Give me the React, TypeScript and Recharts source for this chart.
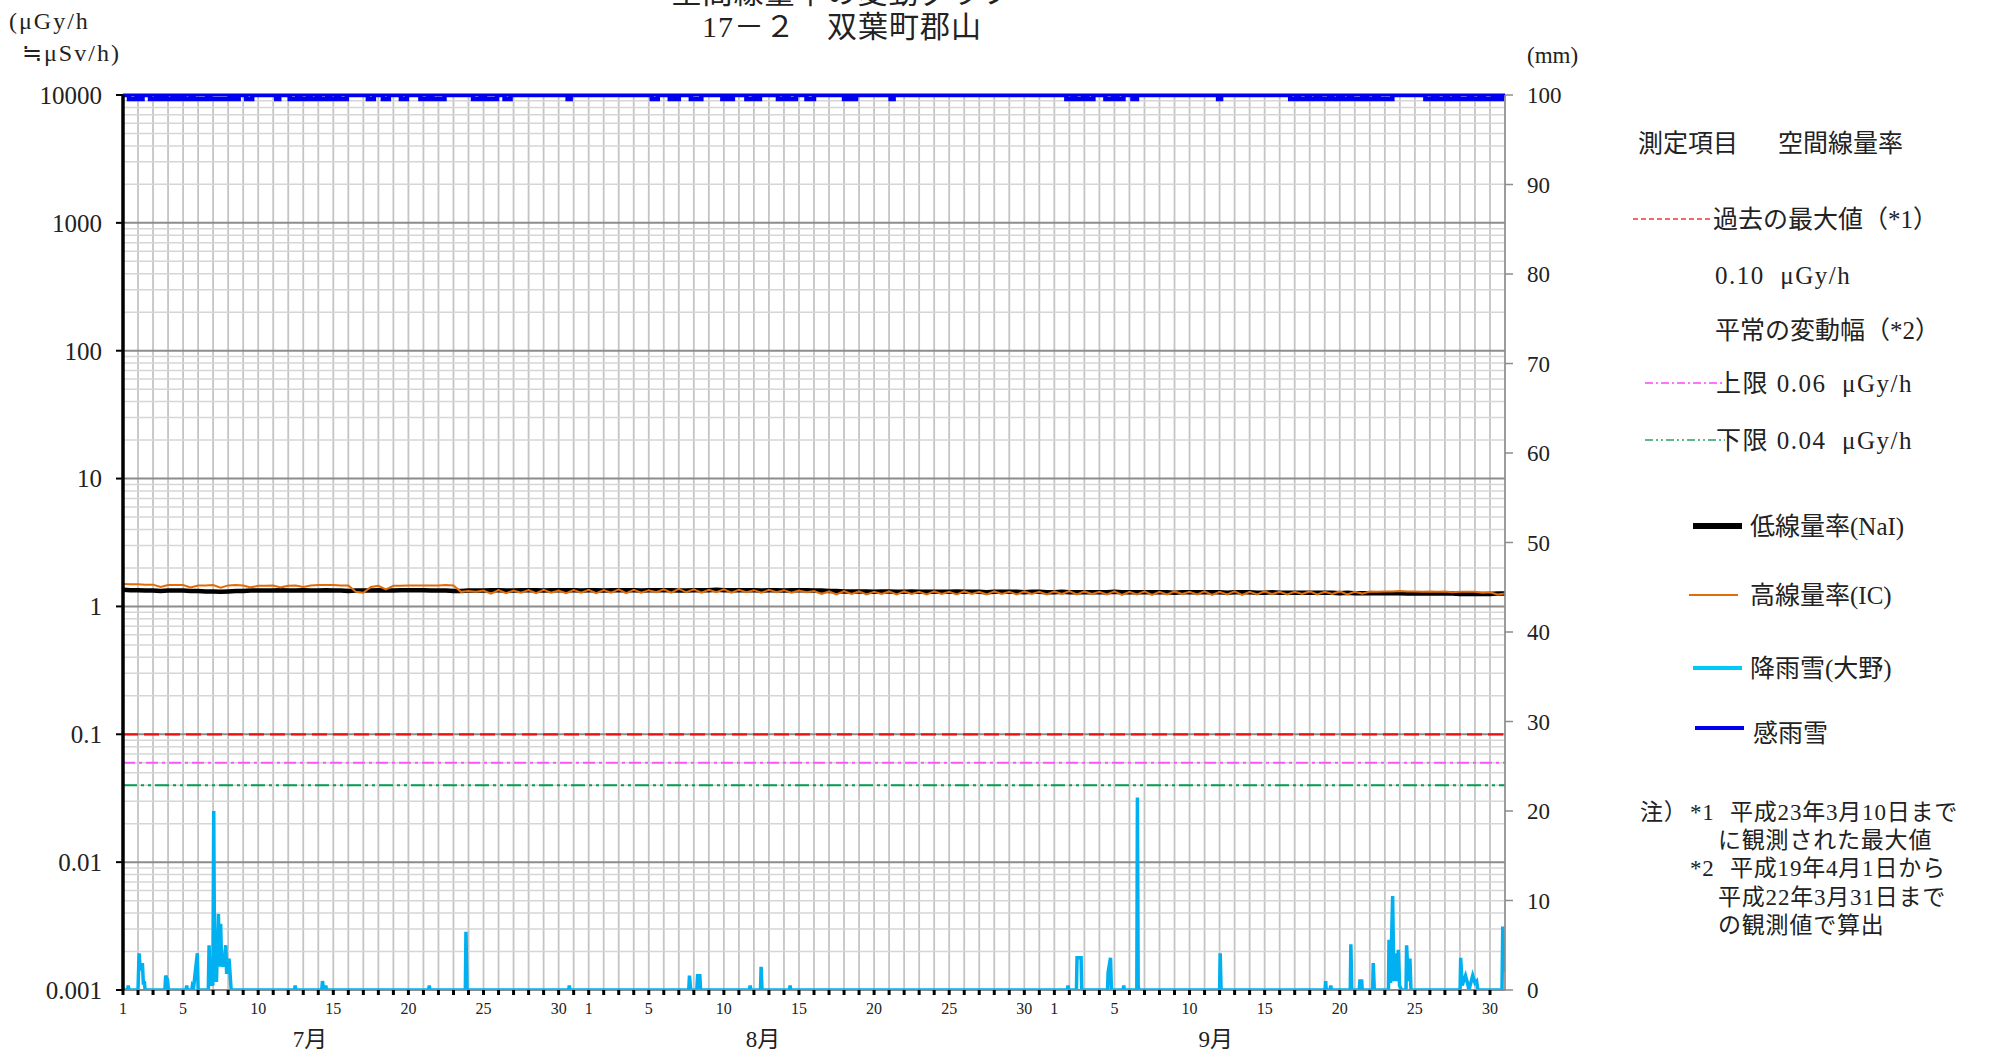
import React from 'react';
import { ComposedChart, Line, XAxis, YAxis, CartesianGrid, ReferenceLine } from 'recharts';

const FONT = "'Liberation Serif', 'Noto Sans CJK JP', serif";

// calendar: Jul 1 .. Sep 30, x = days since Jul 1 00:00
const MONTH_NAMES = ['7月', '8月', '9月'];
const MONTH_DAYS = [31, 31, 30];
const MONTH_LABEL_POS = [12.45, 42.6, 72.75];
const DAY_LABELS = [1, 5, 10, 15, 20, 25, 30];

const LEFT_TICKS = [0.001, 0.01, 0.1, 1, 10, 100, 1000, 10000];
const RIGHT_TICKS = [0, 10, 20, 30, 40, 50, 60, 70, 80, 90, 100];

const MAX_PAST = 0.1;
const NORMAL_UPPER = 0.06;
const NORMAL_LOWER = 0.04;

// low dose rate (NaI), two readings per day, µGy/h
const NAI = [
  1.35, 1.34, 1.34, 1.33, 1.33, 1.32, 1.33, 1.33, 1.33, 1.32,
  1.32, 1.31, 1.31, 1.30, 1.31, 1.32, 1.32, 1.33, 1.33, 1.33,
  1.33, 1.34, 1.33, 1.33, 1.34, 1.33, 1.33, 1.34, 1.33, 1.33,
  1.32, 1.33, 1.33, 1.33, 1.34, 1.33, 1.33, 1.34, 1.34, 1.34,
  1.34, 1.33, 1.33, 1.33, 1.32, 1.32, 1.33, 1.33, 1.33, 1.34,
  1.34, 1.33, 1.33, 1.34, 1.34, 1.34, 1.33, 1.34, 1.34, 1.34, 1.34, 1.33,
  1.34, 1.34, 1.33, 1.34, 1.34, 1.34, 1.34, 1.33, 1.34, 1.34,
  1.34, 1.34, 1.33, 1.33, 1.34, 1.34, 1.34, 1.35, 1.34, 1.34,
  1.34, 1.34, 1.34, 1.33, 1.34, 1.34, 1.33, 1.34, 1.34, 1.34,
  1.33, 1.33, 1.32, 1.32, 1.31, 1.31, 1.31, 1.31, 1.30, 1.31,
  1.31, 1.30, 1.30, 1.31, 1.30, 1.30, 1.30, 1.30, 1.30, 1.31,
  1.30, 1.30, 1.30, 1.29, 1.30, 1.30, 1.30, 1.30, 1.29, 1.30, 1.30, 1.29,
  1.29, 1.30, 1.29, 1.29, 1.29, 1.29, 1.29, 1.29, 1.30, 1.29,
  1.29, 1.29, 1.29, 1.29, 1.29, 1.29, 1.28, 1.29, 1.29, 1.29,
  1.29, 1.29, 1.29, 1.28, 1.29, 1.29, 1.29, 1.28, 1.28, 1.29,
  1.28, 1.28, 1.28, 1.28, 1.28, 1.28, 1.28, 1.28, 1.27, 1.28,
  1.27, 1.27, 1.27, 1.27, 1.27, 1.27, 1.27, 1.26, 1.26, 1.27,
  1.26, 1.26, 1.26, 1.26, 1.25, 1.25, 1.25, 1.25, 1.25, 1.26,
  1.26,
];

// high dose rate (IC), same times
const IC = [
  1.50, 1.49, 1.49, 1.48, 1.48, 1.42, 1.47, 1.47, 1.47, 1.41,
  1.46, 1.46, 1.47, 1.40, 1.46, 1.47, 1.46, 1.41, 1.45, 1.45,
  1.46, 1.41, 1.45, 1.46, 1.42, 1.46, 1.47, 1.47, 1.47, 1.46,
  1.46, 1.30, 1.28, 1.42, 1.45, 1.36, 1.45, 1.45, 1.46, 1.46,
  1.46, 1.46, 1.46, 1.47, 1.46, 1.30, 1.32, 1.30, 1.33, 1.26,
  1.34, 1.27, 1.33, 1.28, 1.34, 1.27, 1.35, 1.28, 1.33, 1.27, 1.34, 1.28,
  1.35, 1.27, 1.34, 1.28, 1.36, 1.27, 1.35, 1.28, 1.34, 1.29,
  1.36, 1.28, 1.37, 1.29, 1.36, 1.28, 1.35, 1.29, 1.36, 1.28,
  1.35, 1.29, 1.34, 1.28, 1.35, 1.29, 1.34, 1.28, 1.33, 1.29,
  1.32, 1.25, 1.31, 1.24, 1.32, 1.25, 1.31, 1.24, 1.30, 1.25,
  1.31, 1.24, 1.31, 1.25, 1.30, 1.24, 1.31, 1.25, 1.30, 1.24,
  1.31, 1.25, 1.30, 1.24, 1.31, 1.25, 1.30, 1.24, 1.31, 1.25, 1.30, 1.24,
  1.31, 1.25, 1.32, 1.24, 1.31, 1.25, 1.30, 1.24, 1.31, 1.23,
  1.30, 1.24, 1.31, 1.23, 1.30, 1.24, 1.31, 1.25, 1.30, 1.24,
  1.31, 1.23, 1.30, 1.24, 1.31, 1.23, 1.30, 1.24, 1.31, 1.25,
  1.30, 1.24, 1.30, 1.25, 1.31, 1.24, 1.30, 1.25, 1.31, 1.24,
  1.30, 1.26, 1.31, 1.30, 1.31, 1.31, 1.32, 1.31, 1.31, 1.30,
  1.31, 1.30, 1.31, 1.29, 1.30, 1.30, 1.30, 1.28, 1.29, 1.24,
  1.26,
];

// precipitation (Ohno) [day, mm]
const RAIN: [number, number][] = [
  [0, 0], [0.31, 0], [0.35, 0.5], [0.39, 0],
  [1.0, 0], [1.07, 4.1], [1.15, 2.2], [1.29, 3.0], [1.36, 0.6], [1.42, 1.0], [1.47, 0],
  [2.79, 0], [2.84, 1.6], [2.97, 1.1], [3.02, 0],
  [4.2, 0], [4.24, 0.5], [4.28, 0], [4.58, 0], [4.62, 0.5], [4.7, 0.3], [4.95, 4.1], [5.0, 0],
  [5.68, 0], [5.73, 5.0], [5.8, 0.5], [5.88, 0.9], [5.98, 0.5], [6.04, 20.0], [6.1, 1.0],
  [6.17, 6.0], [6.22, 0.9], [6.35, 8.5], [6.43, 2.6], [6.5, 7.4], [6.57, 2.6], [6.61, 3.5],
  [6.7, 2.6], [6.84, 5.0], [6.9, 1.8], [6.95, 2.6], [7.06, 3.5], [7.2, 0],
  [11.42, 0], [11.46, 0.5], [11.5, 0],
  [13.23, 0], [13.28, 1.0], [13.36, 0], [13.46, 0], [13.5, 0.5], [13.54, 0],
  [20.35, 0], [20.39, 0.5], [20.43, 0],
  [22.79, 0], [22.83, 6.5], [22.9, 0],
  [29.67, 0], [29.71, 0.5], [29.75, 0],
  [37.66, 0], [37.71, 1.6], [37.79, 0], [38.2, 0], [38.25, 1.6], [38.4, 1.6], [38.45, 0],
  [41.71, 0], [41.75, 0.5], [41.79, 0], [42.44, 0], [42.48, 2.6], [42.54, 0],
  [44.37, 0], [44.41, 0.5], [44.45, 0],
  [62.87, 0], [62.91, 0.5], [62.95, 0], [63.47, 0], [63.51, 3.6], [63.78, 3.6], [63.82, 0],
  [65.54, 0], [65.58, 2.0], [65.74, 3.6], [65.8, 0], [66.58, 0], [66.62, 0.5], [66.66, 0],
  [67.49, 0], [67.53, 21.5], [67.58, 0.5], [67.62, 0],
  [73.0, 0], [73.04, 4.1], [73.1, 0],
  [80.02, 0], [80.06, 1.0], [80.1, 0], [80.36, 0], [80.4, 0.5], [80.44, 0],
  [81.7, 0], [81.74, 5.1], [81.8, 0], [82.3, 0], [82.34, 1.0], [82.46, 1.0], [82.5, 0],
  [83.19, 0], [83.23, 3.0], [83.3, 0],
  [84.24, 0], [84.28, 5.6], [84.38, 0.8], [84.52, 10.5], [84.6, 1.0], [84.68, 4.1], [84.8, 1.0],
  [84.9, 4.5], [84.98, 0.5], [85.1, 0], [85.41, 0], [85.45, 5.0], [85.56, 1.0], [85.67, 3.5], [85.74, 0],
  [89.01, 0], [89.05, 3.6], [89.15, 0.5], [89.37, 1.6], [89.5, 0.8], [89.6, 0], [89.85, 1.6],
  [90.0, 0.8], [90.11, 1.0], [90.2, 0],
  [91.8, 0], [91.85, 7.1], [91.96, 2.0],
];

// rain/snow sensor "on" periods [start day, end day]
const SENSE_ON: [number, number][] = [
  [0.4, 0.9], [1.0, 1.3], [1.8, 2.2], [2.4, 2.7], [2.9, 3.3], [3.6, 3.9], [4.1, 4.5], [4.7, 5.6],
  [5.8, 7.1], [7.4, 7.7], [8.2, 8.6], [10.2, 10.4], [11.1, 11.6], [11.8, 12.3], [12.5, 12.9],
  [13.1, 13.6], [13.8, 14.2], [14.4, 14.9], [16.3, 16.7], [17.3, 17.7], [18.5, 18.9], [19.8, 20.3],
  [20.6, 21.4], [23.3, 23.8], [24.1, 24.9], [25.4, 25.8], [29.6, 29.8], [35.2, 35.6], [36.4, 36.7],
  [36.8, 37.0], [37.8, 38.5], [39.9, 40.2], [40.4, 40.6], [41.5, 42.0], [42.2, 42.4], [43.6, 44.0],
  [44.3, 44.8], [45.5, 46.0], [48.0, 48.3], [48.5, 48.8], [51.1, 51.3], [62.8, 63.2], [63.4, 63.9],
  [64.2, 64.6], [65.4, 65.9], [66.2, 66.6], [67.2, 67.5], [72.9, 73.1], [77.7, 78.1], [78.3, 78.8],
  [79.0, 79.4], [79.7, 80.3], [80.5, 80.9], [81.2, 81.6], [81.8, 82.5], [82.8, 83.3], [83.6, 84.5],
  [86.7, 87.2], [87.5, 88.0], [88.2, 88.6], [88.9, 89.6], [89.8, 90.3], [90.6, 91.2], [91.5, 91.8],
];
const SENSE_OFF_LEVEL = 10000;
const SENSE_ON_LEVEL = 9300;

const MINOR_VALUES: number[] = [];
LEFT_TICKS.slice(0, -1).forEach(d => {
  for (let k = 2; k <= 9; k++) MINOR_VALUES.push(d * k);
});

const DAY_TICKS = Array.from({ length: 92 }, (_, i) => i);

const doseData = NAI.map((v, i) => ({ t: i * 0.5, nai: v, ic: IC[i] }));
const rainData = RAIN.map(([t, mm]) => ({ t, mm }));
const senseData: { t: number; s: number }[] = [{ t: 0, s: SENSE_OFF_LEVEL }];
SENSE_ON.forEach(([a, b]) => {
  senseData.push({ t: a, s: SENSE_ON_LEVEL });
  senseData.push({ t: b, s: SENSE_OFF_LEVEL });
});
senseData.push({ t: 92, s: SENSE_OFF_LEVEL });

const DayTick = (props: any) => {
  const { x, y, payload } = props;
  let d = payload.value;
  let m = 0;
  while (m < MONTH_DAYS.length - 1 && d >= MONTH_DAYS[m]) {
    d -= MONTH_DAYS[m];
    m++;
  }
  const dom = d + 1;
  if (!DAY_LABELS.includes(dom)) return <g />;
  return (
    <text x={x} y={y} dy={17} textAnchor="middle" fontSize={16} fontFamily={FONT} fill="#222">
      {dom}
    </text>
  );
};

const MonthTick = (props: any) => {
  const { x, y, payload } = props;
  const i = MONTH_LABEL_POS.indexOf(payload.value);
  return (
    <text x={x} y={y} dy={27} textAnchor="middle" fontSize={23} fontFamily={FONT} fill="#222">
      {MONTH_NAMES[i]}
    </text>
  );
};

const Legend = () => (
  <svg
    width={2004}
    height={1054}
    style={{ position: 'absolute', left: 0, top: 0, pointerEvents: 'none' }}
    fontFamily={FONT}
    fill="#222"
  >
    <text x={842} y={3} textAnchor="middle" fontSize={30} letterSpacing={1}>空間線量率の変動グラフ</text>
    <text x={842} y={37} textAnchor="middle" fontSize={30} letterSpacing={1}>17－２　双葉町郡山</text>
    <text x={9} y={29} fontSize={24} letterSpacing={2}>(μGy/h</text>
    <text x={22} y={61} fontSize={24} letterSpacing={2}>≒μSv/h)</text>
    <text x={1527} y={63} fontSize={23}>(mm)</text>

    <g fontSize={25} dominantBaseline="central">
      <text x={1638} y={143}>測定項目</text>
      <text x={1778} y={143}>空間線量率</text>

      <line x1={1633} x2={1713} y1={219} y2={219} stroke="#FF3333" strokeWidth={1.5} strokeDasharray="5 3" />
      <text x={1713} y={219}>過去の最大値（*1）</text>
      <text x={1715} y={275} style={{ whiteSpace: 'pre' }} letterSpacing={1.5}>0.10  μGy/h</text>
      <text x={1715} y={330}>平常の変動幅（*2）</text>

      <line x1={1645} x2={1725} y1={383} y2={383} stroke="#FF44FF" strokeWidth={1.5} strokeDasharray="8 3 2 3" />
      <text x={1716} y={383} style={{ whiteSpace: 'pre' }} letterSpacing={1.5}>上限 0.06  μGy/h</text>
      <line x1={1645} x2={1725} y1={440} y2={440} stroke="#2E9E6A" strokeWidth={1.5} strokeDasharray="8 3 2 3 2 3" />
      <text x={1716} y={440} style={{ whiteSpace: 'pre' }} letterSpacing={1.5}>下限 0.04  μGy/h</text>

      <line x1={1693} x2={1742} y1={526} y2={526} stroke="#000" strokeWidth={6} />
      <text x={1750} y={526}>低線量率(NaI)</text>
      <line x1={1689} x2={1738} y1={595} y2={595} stroke="#E36C09" strokeWidth={2} />
      <text x={1750} y={595}>高線量率(IC)</text>
      <line x1={1693} x2={1742} y1={668} y2={668} stroke="#00C8F8" strokeWidth={4} />
      <text x={1750} y={668}>降雨雪(大野)</text>
      <line x1={1695} x2={1744} y1={728} y2={728} stroke="#0000EE" strokeWidth={4} />
      <text x={1753} y={733}>感雨雪</text>
    </g>

    <g fontSize={23} dominantBaseline="central" letterSpacing={0.8}>
      <text x={1640} y={812}>注）</text>
      <text x={1690} y={812}>*1</text>
      <text x={1730} y={812}>平成23年3月10日まで</text>
      <text x={1718} y={840}>に観測された最大値</text>
      <text x={1690} y={868}>*2</text>
      <text x={1730} y={868}>平成19年4月1日から</text>
      <text x={1718} y={897}>平成22年3月31日まで</text>
      <text x={1718} y={925}>の観測値で算出</text>
    </g>
  </svg>
);

export default function App() {
  return (
    <div style={{ position: 'absolute', left: 0, top: 0, width: 2004, height: 1054, background: '#fff' }}>
      <ComposedChart width={2004} height={1054} margin={{ top: 95, right: 439, bottom: 0, left: 0 }}>
        <CartesianGrid horizontal={false} stroke="#C4C4C4" strokeWidth={1.8} />
        {MINOR_VALUES.map(v => (
          <ReferenceLine key={'m' + v} y={v} stroke="#D6D6D6" strokeWidth={1.5} zIndex={-90} />
        ))}
        {LEFT_TICKS.map(v => (
          <ReferenceLine key={'M' + v} y={v} stroke="#8C8C8C" strokeWidth={2} zIndex={-80} />
        ))}

        <XAxis
          dataKey="t"
          type="number"
          domain={[0, 92]}
          allowDataOverflow
          ticks={DAY_TICKS}
          interval={0}
          height={30}
          tickSize={5}
          tickMargin={2}
          axisLine={{ stroke: '#8C8C8C', strokeWidth: 2 }}
          tickLine={{ stroke: '#000', strokeWidth: 3 }}
          tick={<DayTick />}
        />
        <XAxis
          xAxisId="month"
          dataKey="t"
          type="number"
          domain={[0, 92]}
          allowDataOverflow
          ticks={MONTH_LABEL_POS}
          interval={0}
          height={34}
          tickSize={0}
          tickMargin={0}
          axisLine={false}
          tickLine={false}
          tick={<MonthTick />}
        />
        <YAxis
          scale="log"
          type="number"
          domain={[0.001, 10000]}
          allowDataOverflow
          ticks={LEFT_TICKS}
          interval={0}
          width={123}
          tickSize={7}
          tickMargin={14}
          axisLine={{ stroke: '#000', strokeWidth: 3.5 }}
          tickLine={{ stroke: '#000', strokeWidth: 2 }}
          tick={{ fill: '#222', fontSize: 25, fontFamily: FONT }}
          tickFormatter={(v: number) => String(v)}
        />
        <YAxis
          yAxisId="mm"
          orientation="right"
          type="number"
          domain={[0, 100]}
          allowDataOverflow
          ticks={RIGHT_TICKS}
          interval={0}
          width={60}
          tickSize={8}
          tickMargin={14}
          axisLine={{ stroke: '#8C8C8C', strokeWidth: 1.5 }}
          tickLine={{ stroke: '#8C8C8C', strokeWidth: 1.5 }}
          tick={{ fill: '#222', fontSize: 23, fontFamily: FONT, textAnchor: 'start' }}
        />

        <ReferenceLine y={MAX_PAST} stroke="#EE1111" strokeWidth={2.3} strokeDasharray="15 6" />
        <ReferenceLine y={NORMAL_UPPER} stroke="#FF55FF" strokeWidth={2} strokeDasharray="12 4 3 4" />
        <ReferenceLine y={NORMAL_LOWER} stroke="#00A050" strokeWidth={2} strokeDasharray="14 4 3 4 3 4" />

        <Line data={doseData} dataKey="nai" type="linear" stroke="#000" strokeWidth={4.5} dot={false} isAnimationActive={false} />
        <Line data={doseData} dataKey="ic" type="linear" stroke="#E36C09" strokeWidth={2} dot={false} isAnimationActive={false} />
        <Line yAxisId="mm" data={rainData} dataKey="mm" type="linear" stroke="#00B0F0" strokeWidth={3.5} dot={false} isAnimationActive={false} />
        <ReferenceLine y={SENSE_OFF_LEVEL} stroke="#0000EE" strokeWidth={3} />
        <Line data={senseData} dataKey="s" type="stepAfter" stroke="#0000EE" strokeWidth={4.5} dot={false} isAnimationActive={false} />
      </ComposedChart>
      <Legend />
    </div>
  );
}
